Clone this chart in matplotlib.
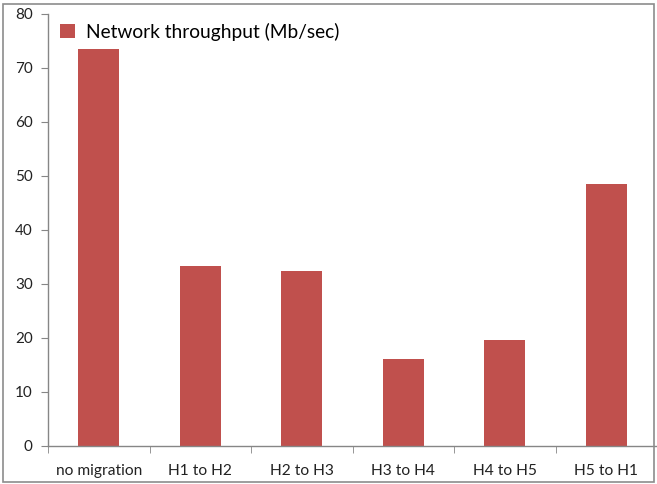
import matplotlib
matplotlib.use("Agg")
import matplotlib.pyplot as plt
from matplotlib.patches import Rectangle

# Data
categories = ["no migration", "H1 to H2", "H2 to H3", "H3 to H4", "H4 to H5", "H5 to H1"]
throughput = [73.6, 33.3, 32.3, 16.0, 19.6, 48.4]
series_label = "Network throughput (Mb/sec)"
y_ticks = [0, 10, 20, 30, 40, 50, 60, 70, 80]

plt.rcParams['font.family'] = ['Lato', 'DejaVu Sans']

fig = plt.figure(figsize=(6.57, 4.84), dpi=100)
ax = fig.add_axes([48 / 657, (484 - 445.5) / 484, 609 / 657, (445.5 - 14) / 484])

x = list(range(len(categories)))
ax.bar(x, throughput, width=0.4, color="#C0504D", label=series_label, zorder=2)

ax.set_xlim(-0.5, len(categories) - 0.5)
ax.set_ylim(0, 80)
ax.set_yticks(y_ticks)
ax.set_xticks(x)
ax.set_xticklabels(categories)
ax.set_xticks([i - 0.5 for i in range(len(categories) + 1)], minor=True)

ax.tick_params(axis="x", which="major", length=0, pad=13, labelsize=11.2, labelcolor="#222222")
ax.tick_params(axis="x", which="minor", length=5, color="#868686", direction="out")
ax.tick_params(axis="y", length=5, color="#868686", direction="out", labelsize=11,
               labelcolor="#222222", pad=6)

for side in ("top", "right"):
    ax.spines[side].set_visible(False)
for side in ("left", "bottom"):
    ax.spines[side].set_color("#868686")
    ax.spines[side].set_linewidth(1.0)

leg = ax.legend(loc="upper left", bbox_to_anchor=(-0.008, 1.02), frameon=False,
                fontsize=13.8, handlelength=0.75, handleheight=0.75, handletextpad=0.6)

# grey frame around the whole chart
fig.patches.append(Rectangle((0.004, 0.004), 0.992, 0.988, transform=fig.transFigure,
                             fill=False, edgecolor="#8c8c8c", linewidth=1.2))

fig.savefig("out.png", dpi=100)
